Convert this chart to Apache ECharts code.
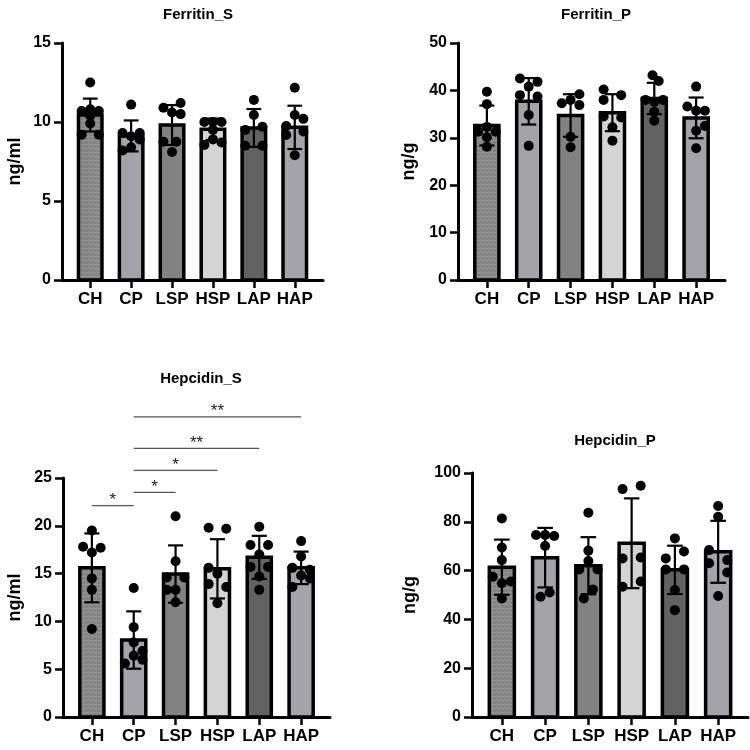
<!DOCTYPE html>
<html>
<head>
<meta charset="utf-8">
<script src="https://cdn.jsdelivr.net/npm/echarts@6/dist/echarts.min.js"></script>
<style>
html, body { margin: 0; padding: 0; background: #fff; }
#main { width: 750px; height: 750px; }
</style>
</head>
<body>
<div id="main"></div>
<script>
var categories = ['CH', 'CP', 'LSP', 'HSP', 'LAP', 'HAP'];

// Ferritin_S (ng/ml)
var ferritinSMean = [10.44, 9.12, 9.81, 9.54, 9.62, 9.66];
var ferritinSSd = [1.04, 0.98, 1.26, 0.68, 1.2, 1.37];
var ferritinSPoints = [
	[12.5, 10.7, 10.8, 10.7, 10.4, 9.9, 9.2, 9.2],
	[11.1, 9.3, 9.1, 9.3, 8.9, 8.4, 8.2],
	[10.9, 11.2, 10.6, 10.5, 8.75, 8.75, 8.1],
	[10.0, 10.0, 10.0, 9.5, 8.9, 8.7, 8.55],
	[11.4, 10.44, 9.7, 9.5, 8.5, 8.5],
	[12.17, 10.44, 10.2, 9.75, 9.4, 9.18, 7.9]
];
var ferritinSJitter = [
	[0, -1, 0, 1, 0, 0, -1, 1],
	[0, -1, 0, 1, 1, 0, -1],
	[-1, 1, 0, 1, -1, 0.5, 0],
	[-1, 0, 1, 0, 0, 1, -1],
	[0, 0, 1, -1, -1, 1],
	[0, 0, 1, -1, 1, -1, 0]
];

// Ferritin_P (ng/g)
var ferritinPMean = [32.6, 37.7, 34.7, 35.3, 38.3, 34.2];
var ferritinPSd = [4.2, 4.9, 4.5, 3.9, 3.3, 4.3];
var ferritinPPoints = [
	[39.7, 37.1, 32.3, 31.3, 31.3, 30.1, 28.1],
	[42.5, 41.8, 40.8, 39.0, 38.7, 34.8, 28.3],
	[39.2, 38.0, 37.3, 36.9, 30.2, 28.0],
	[40.2, 39.0, 38.0, 34.5, 34.3, 32.2, 29.4],
	[43.2, 42.0, 38.0, 38.0, 37.6, 35.5, 33.6],
	[40.8, 36.6, 35.7, 35.7, 32.5, 31.5, 27.8]
];
var ferritinPJitter = [
	[0, 0, 0, -1, 1, 0, 0],
	[-1, 1, 0, -1, 1, 0, 0],
	[1, 0, -1, 1, 0, 0],
	[-1, 1, -1, -1, 1, 0, 0],
	[-0.2, 0.5, -1, 1, 0, 0, 0],
	[0, -1, 0, 1, 1, 0, 0]
];

// Hepcidin_S (ng/ml)
var hepcidinSMean = [15.6, 8.05, 14.95, 15.5, 16.7, 15.6];
var hepcidinSSd = [3.6, 3.0, 3.0, 3.1, 2.25, 1.7];
var hepcidinSPoints = [
	[19.5, 17.8, 17.7, 17.2, 14.5, 13.3, 9.2],
	[13.5, 9.4, 7.8, 6.9, 6.4, 6.0, 5.6],
	[21.0, 16.3, 14.6, 14.6, 13.3, 13.3, 12.0],
	[19.8, 19.7, 15.6, 15.0, 13.9, 13.6, 11.9],
	[19.9, 18.0, 18.0, 17.0, 15.7, 15.7, 14.7, 13.3],
	[18.4, 16.8, 15.6, 15.4, 14.8, 14.5, 13.6]
];
var hepcidinSJitter = [
	[0, -1, 1, 0, 0, 0, 0],
	[0, 0, 0, 1, 0, 1, -1],
	[0, 0, -1, 1, 0, -1, 0],
	[-1, 1, -1, 0, -1, 1, 0],
	[0, -1, 1, 0, -1, 1, 0, 0],
	[0, 0, -1, 1, 0, 1, -1]
];
// significance brackets: [from, to, height(ng/ml)]
var hepcidinSSig = [[0, 1, 22.1], [1, 2, 23.5], [1, 3, 25.8], [1, 4, 28.1], [1, 5, 31.4]];
var hepcidinSSigLabels = ['*', '*', '*', '**', '**'];

// Hepcidin_P (ng/g)
var hepcidinPMean = [61.4, 65.3, 62.0, 71.2, 60.3, 67.7];
var hepcidinPSd = [11.3, 12.2, 11.7, 18.4, 9.9, 12.7];
var hepcidinPPoints = [
	[81.4, 69.5, 64.3, 57.5, 55.5, 54.8, 48.6],
	[74.6, 74.6, 74.2, 70.1, 51.0, 49.3],
	[83.7, 68.2, 63.9, 60.5, 60.5, 52.3, 48.6],
	[93.4, 94.8, 65.0, 65.4, 53.4, 55.5],
	[73.2, 65.0, 67.8, 60.5, 60.5, 52.0, 43.8],
	[86.5, 82.1, 68.4, 64.3, 63.0, 59.2, 49.6]
];
var hepcidinPJitter = [
	[0, 0, 0, -1, 1, 0, 0],
	[-1, 0, 1, 0, 0.5, -0.5],
	[0, 0, 0, -1, 1, 0.5, -0.5],
	[-1, 1, -1, 1, -1, 1],
	[0, -1, 1, -1, 1, 0, 0],
	[0, 0, -1, 1, -1, 1, 0]
];

var barColors = ['#888888', '#a3a3a9', '#828282', '#d4d4d4', '#626262', '#a3a3a9'];

var font = '"Liberation Sans", Arial, sans-serif';
var chart = echarts.init(document.getElementById('main'), null, {renderer: 'canvas'});

// grainy fill for the CH bar
var pc = document.createElement('canvas');
pc.width = 4; pc.height = 4;
var pctx = pc.getContext('2d');
pctx.fillStyle = '#838383';
pctx.fillRect(0, 0, 4, 4);
pctx.fillStyle = '#959595';
pctx.fillRect(0, 0, 4, 1);
pctx.fillStyle = '#8c8c8c';
pctx.fillRect(0, 0, 1, 4);
var chPattern = {image: pc, repeat: 'repeat'};

var panels = [
	{title: 'Ferritin_S', unit: 'ng/ml', max: 15, step: 5, mean: ferritinSMean, sd: ferritinSSd, pts: ferritinSPoints, jit: ferritinSJitter,
		grid: {left: 62, top: 43, width: 261, height: 237}, tx: 193, ty: 2, gap: 38},
	{title: 'Ferritin_P', unit: 'ng/g', max: 50, step: 10, mean: ferritinPMean, sd: ferritinPSd, pts: ferritinPPoints, jit: ferritinPJitter,
		grid: {left: 458, top: 43, width: 267, height: 237}, tx: 591, ty: 2, gap: 40},
	{title: 'Hepcidin_S', unit: 'ng/ml', max: 25, step: 5, mean: hepcidinSMean, sd: hepcidinSSd, pts: hepcidinSPoints, jit: hepcidinSJitter,
		grid: {left: 63, top: 478, width: 267, height: 239}, tx: 196, ty: 366, gap: 39},
	{title: 'Hepcidin_P', unit: 'ng/g', max: 100, step: 20, mean: hepcidinPMean, sd: hepcidinPSd, pts: hepcidinPPoints, jit: hepcidinPJitter,
		grid: {left: 472, top: 473, width: 276, height: 244}, tx: 610, ty: 428, gap: 53}
];

var option = {
	animation: false,
	backgroundColor: '#fff',
	title: [],
	grid: [],
	xAxis: [],
	yAxis: [],
	series: []
};

function barItem(params, api)
{
	var x = api.value(0), m = api.value(1), s = api.value(2);
	var top = api.coord([x, m]);
	var base = api.coord([x, 0]);
	var w = api.size([1, 0])[0];
	var half = w * 0.33 - 1.75;
	var cap = w * 0.18;
	var hi = api.coord([x, m + s]);
	var lo = api.coord([x, m - s]);
	var idx = params.dataIndex;
	return {
		type: 'group',
		children: [
			{type: 'rect', shape: {x: top[0] - half, y: top[1], width: half * 2, height: base[1] - top[1]},
				style: {fill: idx == 0 ? chPattern : barColors[idx], stroke: '#000', lineWidth: 3.5}},
			{type: 'line', shape: {x1: top[0], y1: lo[1], x2: top[0], y2: hi[1]}, style: {stroke: '#000', lineWidth: 2.2}},
			{type: 'line', shape: {x1: top[0] - cap, y1: hi[1], x2: top[0] + cap, y2: hi[1]}, style: {stroke: '#000', lineWidth: 2.2}},
			{type: 'line', shape: {x1: top[0] - cap, y1: lo[1], x2: top[0] + cap, y2: lo[1]}, style: {stroke: '#000', lineWidth: 2.2}}
		]
	};
}

panels.forEach(function(p, k){
	option.title.push({
		text: p.title, left: p.tx, top: p.ty, textAlign: 'center',
		textStyle: {fontFamily: font, fontWeight: 'bold', fontSize: 15, color: '#000'}
	});
	option.grid.push(p.grid);
	option.xAxis.push({
		type: 'value', gridIndex: k, min: -0.69, max: 5.69,
		axisLine: {onZero: false, lineStyle: {color: '#000', width: 3}},
		axisTick: {show: true, customValues: [0, 1, 2, 3, 4, 5], length: 8, lineStyle: {color: '#000', width: 2.5}},
		axisLabel: {customValues: [0, 1, 2, 3, 4, 5], margin: 11, color: '#000', fontFamily: font, fontWeight: 'bold', fontSize: 17,
			formatter: function(v){ return categories[Math.round(v)]; }},
		splitLine: {show: false}
	});
	option.yAxis.push({
		type: 'value', gridIndex: k, min: 0, max: p.max, interval: p.step,
		name: p.unit, nameLocation: 'middle', nameGap: p.gap, nameRotate: 90,
		nameTextStyle: {fontFamily: font, fontWeight: 'bold', fontSize: 18, color: '#000'},
		axisLine: {show: true, onZero: false, lineStyle: {color: '#000', width: 3}},
		axisTick: {show: true, length: 8, lineStyle: {color: '#000', width: 2.5}},
		axisLabel: {margin: 11, color: '#000', fontFamily: font, fontWeight: 'bold', fontSize: 16},
		splitLine: {show: false}
	});

	var barData = p.mean.map(function(m, i){ return [i, m, p.sd[i]]; });
	option.series.push({
		type: 'custom', xAxisIndex: k, yAxisIndex: k, renderItem: barItem, data: barData, z: 2
	});

	var dots = [];
	p.pts.forEach(function(list, i){
		list.forEach(function(v, j){ dots.push([i + p.jit[i][j] * 0.21, v]); });
	});
	option.series.push({
		type: 'scatter', xAxisIndex: k, yAxisIndex: k, data: dots, symbolSize: 10,
		itemStyle: {color: '#000', opacity: 1}, z: 3
	});
});

option.series.push({
	type: 'custom', xAxisIndex: 2, yAxisIndex: 2, clip: false, z: 4,
	data: hepcidinSSig,
	renderItem: function(params, api){
		var a = api.coord([api.value(0), api.value(2)]);
		var b = api.coord([api.value(1), api.value(2)]);
		return {
			type: 'group',
			children: [
				{type: 'line', shape: {x1: a[0], y1: a[1], x2: b[0], y2: b[1]}, style: {stroke: '#555', lineWidth: 1.3}},
				{type: 'text', x: (a[0] + b[0]) / 2, y: a[1] + 3,
					style: {text: hepcidinSSigLabels[params.dataIndex], fill: '#222', fontFamily: font, fontSize: 17,
						align: 'center', verticalAlign: 'bottom'}}
			]
		};
	}
});

chart.setOption(option);
</script>
</body>
</html>
